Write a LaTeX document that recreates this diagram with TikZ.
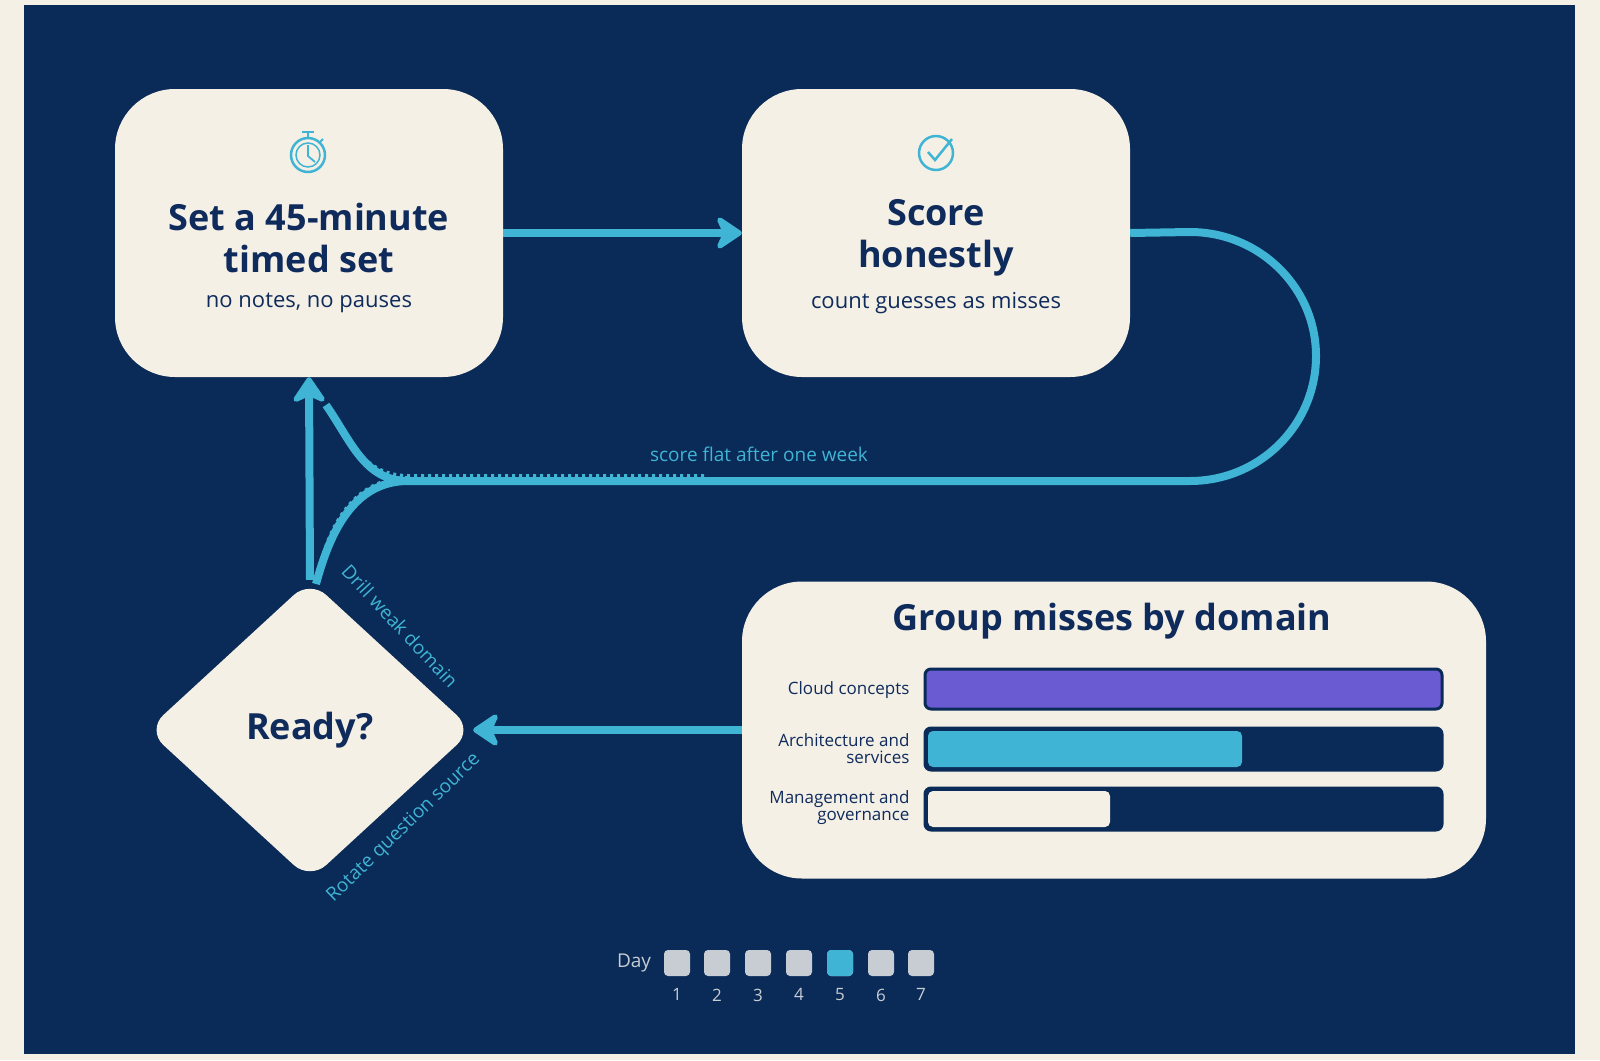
\documentclass[tikz,border=0pt]{standalone}
\usepackage{fontspec}
\setmainfont{Open Sans}
\usetikzlibrary{shapes.geometric,arrows.meta,positioning,calc}
\definecolor{navy}{HTML}{0A2A57}
\definecolor{cream}{HTML}{F5F0E6}
\definecolor{flow}{HTML}{3FB4D4}
\definecolor{ink}{HTML}{0E2B5C}
\definecolor{grape}{HTML}{6A5BD2}
\definecolor{chip}{HTML}{C8CDD3}
\newcommand{\fs}[1]{\fontsize{#1}{#1}\selectfont}

\begin{document}
\begin{tikzpicture}[x=1pt,y=-1pt]
  \tikzstyle{card}=[rectangle, fill=cream, rounded corners=60pt, inner sep=0pt]
  \tikzstyle{title}=[text=ink, font=\fs{36}\bfseries, align=center]
  \tikzstyle{sub}=[text=ink, font=\fs{22}]
  \tikzstyle{flowline}=[draw=flow, line width=8pt]
  \tikzstyle{tip}=[-{Stealth[length=30pt,width=40pt,inset=9pt,round]}]
  \tikzstyle{edgelbl}=[text=flow, font=\fs{19}]
  \tikzstyle{bar}=[draw=navy, line width=3pt, rounded corners=6pt]
  \tikzstyle{barlbl}=[text=ink, font=\fs{17}, align=right, anchor=east]
  \tikzstyle{daybox}=[fill=chip, rounded corners=4pt, minimum size=26pt, inner sep=0pt]

  % Hintergrund
  \fill[cream] (0,0) rectangle (1600,1060);
  \fill[navy] (24,5) rectangle (1575,1054);

  % Karten
  \node[card, minimum width=388pt, minimum height=288pt] (timed) at (309,233) {};
  \node[card, minimum width=388pt, minimum height=288pt] (score) at (936,233) {};
  \node[card, minimum width=744pt, minimum height=297pt] (group) at (1114,730) {};
  \node[diamond, fill=cream, minimum width=326pt, minimum height=300pt, rounded corners=22pt] (ready) at (310,730) {};

  % Texte
  \node[title] at (309,238) {Set a 45-minute\\[6pt]timed set};
  \node[sub] at (309,303) {no notes, no pauses};
  \node[title] at (936,238) {Score\\[6pt]honestly};
  \node[sub] at (936,303) {count guesses as misses};
  \node[title] at (1112,621) {Group misses by domain};
  \node[title] at (310,730) {Ready?};

  % Icons
  \begin{scope}[draw=flow, line width=2.5pt]
    \draw (308,155) circle (17);
    \draw[line width=1.5pt] (308,155) circle (12);
    \draw[line width=1.8pt] (308,145) -- (308,156) -- (315,162);
    \draw (308,138) -- (308,132) (302,132) -- (314,132);
    \draw[line width=1.8pt] (320,142) -- (323,139);
    \draw (936,153) circle (17);
    \draw (928,152) -- (935,160) -- (952,139);
  \end{scope}

  % Verbindungen
  \draw[flowline, tip] (timed.east) -- (score.west);
  \draw[flowline] (score.east) -- (1190,232) to[out=0,in=90] (1316,356)
    to[out=-90,in=0] (1190,481) -- (408,481) to[out=180,in=-55] (326,405);
  \draw[flowline, dash pattern=on 3pt off 4pt, line width=4pt] (704,476) -- (408,476) to[out=180,in=-55] (340,430);
  \draw[flowline] (408,481) to[out=180,in=75] (316,584);
  \draw[flowline, dash pattern=on 3pt off 4pt, line width=4pt] (408,478) to[out=180,in=75] (322,560);
  \draw[flowline, tip] (ready.north) -- (timed.south);
  \draw[flowline, tip] (group.west) -- (ready.east);

  % Beschriftungen
  \node[edgelbl] (flat) at (759,454) {score flat after one week};
  \node[edgelbl, rotate=-47] (drill) at (400,626) {Drill weak domain};
  \node[edgelbl, rotate=44] (rotate) at (404,828) {Rotate question source};

  % Balken
  \draw[bar, fill=grape] (925,669) rectangle (1442,709);
  \draw[bar, fill=navy] (925,728) rectangle (1442,770);
  \fill[flow, rounded corners=5pt] (928,731) rectangle (1242,767);
  \draw[bar, fill=navy] (925,788) rectangle (1442,830);
  \fill[cream, rounded corners=5pt] (928,791) rectangle (1110,827);
  \node[barlbl] at (913,690) {Cloud concepts};
  \node[barlbl] at (913,749) {Architecture and\\services};
  \node[barlbl] at (913,808) {Management and\\governance};

  % Tage
  \node[text=chip, font=\fs{19}] (day) at (634,963) {Day};
  \foreach \d/\x in {1/677,2/717,3/758,4/799,5/840,6/881,7/921} {
    \node[daybox] (d\d) at (\x,963) {};
    \node[text=chip, font=\fs{17}, below=9pt of d\d] {\d};
  }
  \node[daybox, fill=flow] at (d5) {};
\end{tikzpicture}
\end{document}
